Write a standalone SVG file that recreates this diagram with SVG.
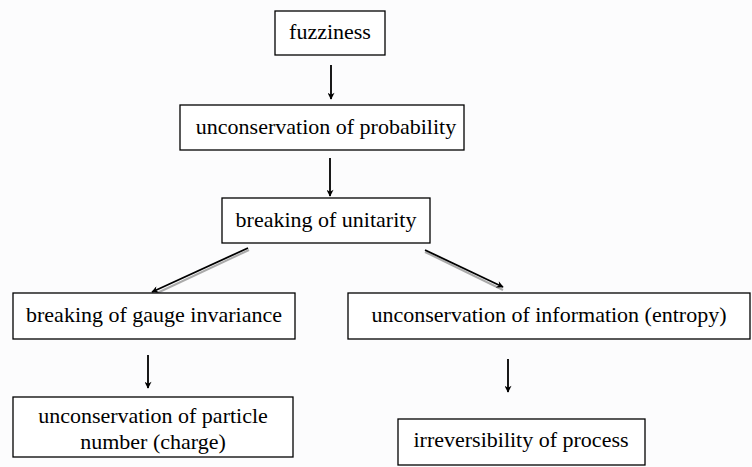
<svg xmlns="http://www.w3.org/2000/svg" width="752" height="467" viewBox="0 0 752 467">
<style>
.box{fill:#fff;stroke:#000;stroke-width:1.3}
.t{font-family:"Liberation Serif","DejaVu Serif",serif;font-size:22px;fill:#000;text-anchor:middle}
.c{stroke:#000;stroke-width:1.8;fill:none}
.s{stroke:#aaa;stroke-width:2;fill:none}
</style>
<defs>
<marker id="ah" viewBox="0 0 10 10" refX="9" refY="5" markerWidth="8" markerHeight="7" orient="auto" markerUnits="userSpaceOnUse">
<path d="M0,0 L10,5 L0,10 L3,5 Z" fill="#000"/>
</marker>
</defs>
<rect width="752" height="467" fill="#fcfcfd"/>
<g id="connectors">
<line class="c" x1="331" y1="65" x2="331" y2="99" marker-end="url(#ah)"/>
<line class="c" x1="330" y1="158" x2="330" y2="196" marker-end="url(#ah)"/>
<line class="s" x1="249" y1="250" x2="155" y2="294"/>
<line class="c" x1="248" y1="248" x2="152" y2="292" marker-end="url(#ah)"/>
<line class="s" x1="425" y1="252" x2="503" y2="290"/>
<line class="c" x1="425" y1="250" x2="503" y2="287" marker-end="url(#ah)"/>
<line class="c" x1="148" y1="355" x2="148" y2="388" marker-end="url(#ah)"/>
<line class="c" x1="508" y1="359" x2="508" y2="392" marker-end="url(#ah)"/>
</g>
<g id="fuzziness">
<rect class="box" x="275" y="11" width="110" height="44"/>
<text class="t" x="330" y="39">fuzziness</text>
</g>
<g id="probability">
<rect class="box" x="180" y="105" width="284" height="45"/>
<text class="t" x="326" y="134">unconservation of probability</text>
</g>
<g id="unitarity">
<rect class="box" x="222" y="198" width="208" height="45"/>
<text class="t" x="326" y="227">breaking of unitarity</text>
</g>
<g id="gauge">
<rect class="box" x="13" y="293" width="282" height="46"/>
<text class="t" x="154" y="322">breaking of gauge invariance</text>
</g>
<g id="information">
<rect class="box" x="348" y="293" width="402" height="46"/>
<text class="t" x="549" y="322">unconservation of information (entropy)</text>
</g>
<g id="particle">
<rect class="box" x="13" y="397" width="280" height="60"/>
<text class="t" x="153" y="423">unconservation of particle</text>
<text class="t" x="153" y="449">number (charge)</text>
</g>
<g id="irreversibility">
<rect class="box" x="398" y="419" width="247" height="46"/>
<text class="t" x="521" y="447">irreversibility of process</text>
</g>
</svg>
